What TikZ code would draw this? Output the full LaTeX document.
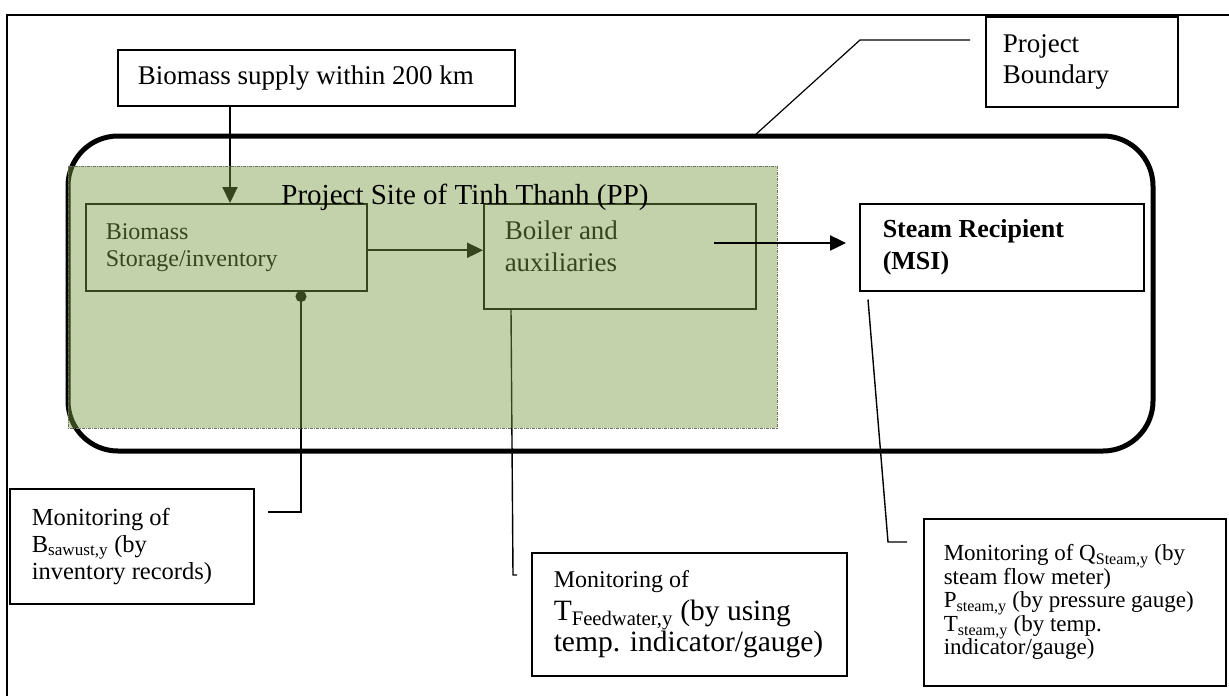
\documentclass[tikz,border=0pt]{standalone}
\usepackage{fontspec}
\setmainfont{Liberation Serif}
\usepackage{xcolor}
\usepackage{tikz}
\usetikzlibrary{shapes,arrows.meta}
\definecolor{sitegreen}{RGB}{122,155,67}
\definecolor{sitedash}{RGB}{110,110,100}

\begin{document}
\begin{tikzpicture}[x=1pt, y=-1pt,
    box/.style={draw, line width=1.5pt, anchor=north west, align=left, inner ysep=0pt,
                execute at begin node={\spaceskip=0pt\xspaceskip=0pt\relax}},
    leader/.style={line width=1.4pt},
    flow/.style={line width=2.4pt, -{Triangle[length=16pt,width=15pt]}}]
  \useasboundingbox (0,0) rectangle (1229,696);

  % Outer frame
  \draw[line width=1.5pt] (7,696) -- (7,15) -- (1229,15);

  % Project boundary
  \draw[line width=5pt, rounded corners=50pt] (68,136) rectangle (1153,451);

  % Boxes on the project site (under the green layer)
  \node[box, minimum width=281pt, minimum height=87pt, inner xsep=20pt, text width=241pt,
        font=\fontsize{24}{27}\selectfont] (storage) at (85,203) {Biomass\\Storage/inventory};
  \node[box, minimum width=272pt, minimum height=105pt, inner xsep=21pt, text width=230pt,
        text depth=53pt, font=\fontsize{27}{32}\selectfont] (boiler) at (483,203) {Boiler and\\auxiliaries};

  \node[box, minimum width=397pt, minimum height=56pt, inner xsep=20pt, text width=357pt,
        font=\fontsize{27}{31}\selectfont] (supply) at (117,49) {Biomass supply within 200 km};
  \coordinate (feed) at (230,0);
  \draw[flow, line width=2pt] (feed |- supply.south) -- (feed |- storage.north);
  \draw[flow] ([yshift=-3pt]storage.east) -- ([yshift=-3pt]boiler.west |- storage.east);

  % Leaders out of the site
  \coordinate (bdot) at (301,291);
  \coordinate (bend) at (268,512);
  \draw[leader, {Circle[length=11pt]}-] (bdot) |- (bend);
  \coordinate (fend) at (517,575);
  \draw[leader] ([xshift=28pt]boiler.south west) -- (513,575) -- (fend);

  % Green site area
  \fill[sitegreen, fill opacity=0.45] (68,166) rectangle (777,428);
  \draw[sitedash, line width=0.9pt, dash pattern=on 3pt off 1pt on 1pt off 1pt] (68,166) rectangle (777,428);
  \node[font=\fontsize{29}{33}\selectfont] (site) at (465,197) {Project Site of Tinh Thanh (PP)};

  % Steam recipient
  \node[box, minimum width=284pt, minimum height=87pt, inner xsep=23pt, text width=238pt,
        font=\fontsize{26}{32}\selectfont\bfseries] (steam) at (859,203) {Steam Recipient\\(MSI)};
  \coordinate (bout) at (714,243);
  \draw[flow, shorten >=13pt] (bout) -- (steam.west |- bout);

  % Project boundary label
  \node[box, minimum width=192pt, minimum height=90pt, inner xsep=17pt, text width=158pt,
        font=\fontsize{27}{31}\selectfont] (pbound) at (985,16) {Project\\Boundary};
  \coordinate (pend) at (970,40);
  \draw[leader, line width=1.2pt] (pend) -- (860,40) -- (754,136);

  % Monitoring boxes
  \node[box, minimum width=244pt, minimum height=115pt, inner xsep=22pt, text width=200pt,
        font=\fontsize{24.5}{27}\selectfont] (bmon) at (9,488)
        {Monitoring of\\B\textsubscript{sawust,y} (by\\inventory records)};
  \node[box, minimum width=315pt, minimum height=123pt, inner xsep=22pt, text width=271pt] (fmon) at (531,552)
        {\fontsize{24}{27}\selectfont Monitoring of\\
         \fontsize{29.5}{33}\selectfont T\textsubscript{Feedwater,y} (by using\\temp. indicator/gauge)};
  \node[box, minimum width=302pt, minimum height=167pt, inner xsep=20pt, text width=262pt,
        font=\fontsize{23}{23.5}\selectfont] (qmon) at (923,518)
        {Monitoring of Q\textsubscript{Steam,y} (by\\steam flow meter)\\
         P\textsubscript{steam,y} (by pressure gauge)\\T\textsubscript{steam,y} (by temp.\\indicator/gauge)};
  \coordinate (qend) at (907,542);
  \draw[leader] ([xshift=9pt,yshift=-8pt]steam.south west) -- (888,542) -- (qend);
\end{tikzpicture}
\end{document}
